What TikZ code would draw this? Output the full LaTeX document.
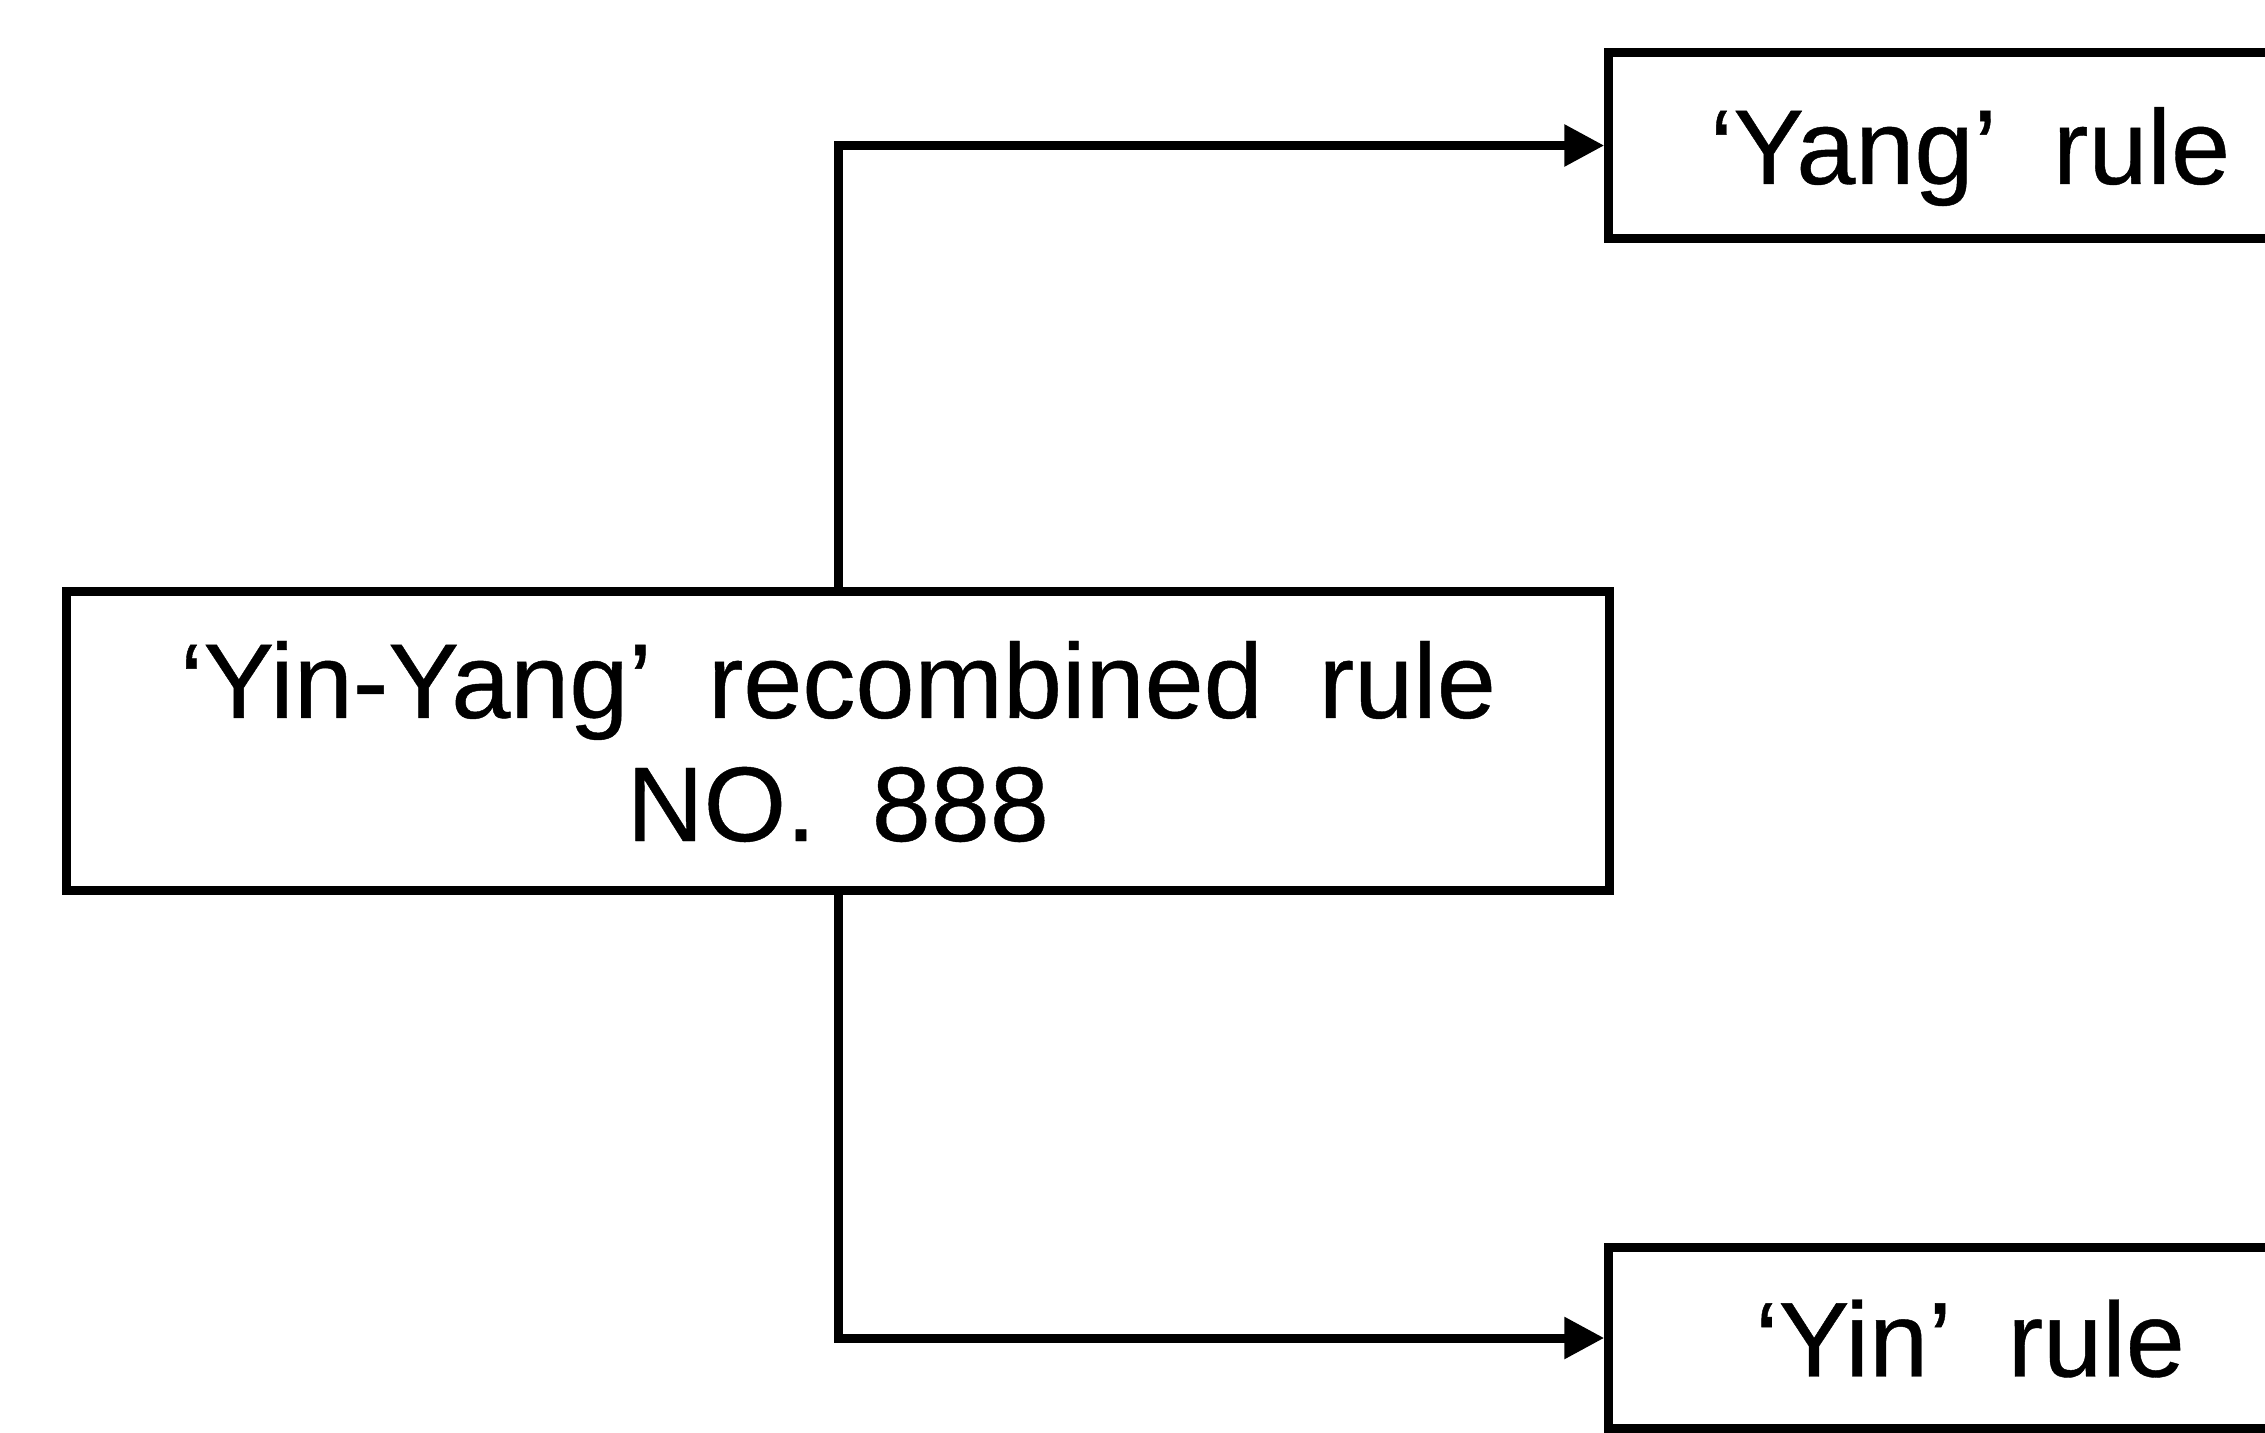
\documentclass[tikz,border=0pt]{standalone}
\usepackage{fontspec}
\setmainfont{Liberation Sans}[WordSpace=1.9, FakeBold=0.4]
\usetikzlibrary{arrows.meta}
\tikzset{
  rulebox/.style={draw=black, line width=0.09cm, fill=white, inner sep=0pt,
    align=center, text depth=0pt, font=\fontsize{30.2}{35}\selectfont},
  conn/.style={draw=black, line width=0.09cm,
    -{Triangle[length=0.4cm, width=0.4cm]}}
}
\begin{document}
\begin{tikzpicture}[x=0.01cm, y=-0.01cm]
  \fill[white] (0,0) rectangle (2265,1433);
  \useasboundingbox (0,0) rectangle (2265,1433);
  \clip (0,0) rectangle (2265,1433);
  \node[rulebox, minimum width=15.42cm, minimum height=2.98cm] (main) at (838,741)
    {‘Yin-Yang’ recombined rule\\NO. 888};
  \node[rulebox, minimum width=7.22cm, minimum height=1.85cm] (yang) at (1970,145.5)
    {‘Yang’ rule};
  \node[rulebox, minimum width=7.22cm, minimum height=1.80cm] (yin) at (1970,1338)
    {‘Yin’ rule};
  \draw[conn] (main.north) |- (yang.west);
  \draw[conn] (main.south) |- (yin.west);
\end{tikzpicture}
\end{document}
